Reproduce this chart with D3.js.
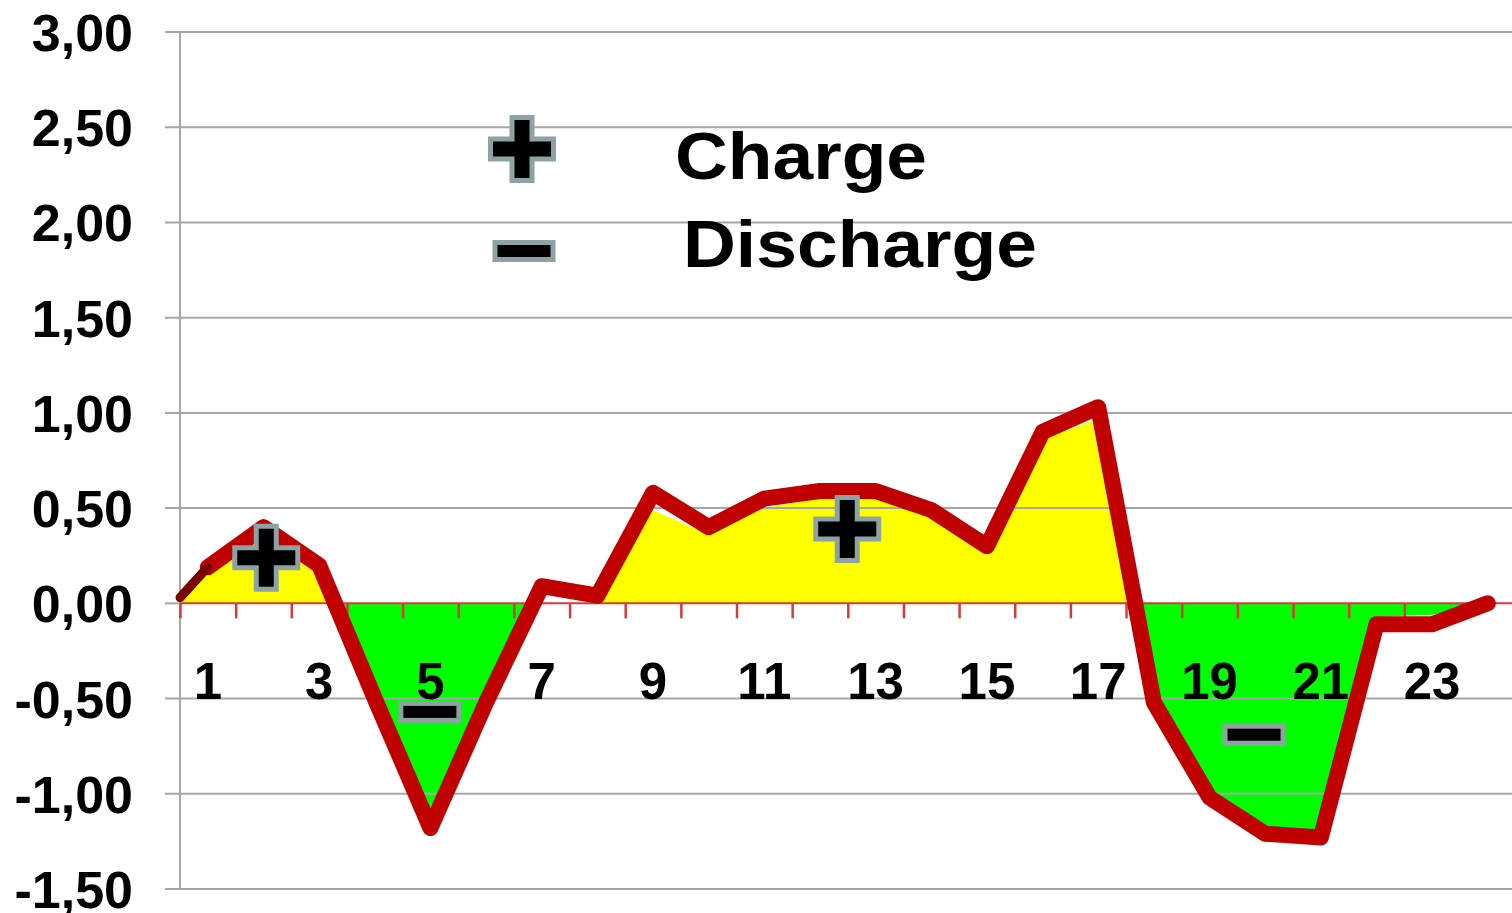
<!DOCTYPE html>
<html><head><meta charset="utf-8">
<script src="https://cdn.jsdelivr.net/npm/d3@7"></script>
<style>html,body{margin:0;padding:0;background:#fff;overflow:hidden}svg{display:block}text{font-family:"Liberation Sans",Arial,sans-serif;font-weight:bold;fill:#000}</style>
</head><body>
<script>
// ---- data ----
const hours = d3.range(1, 25);
const lineValues = [0.19, 0.40, 0.20, -0.50, -1.18, -0.52, 0.09, 0.04, 0.58, 0.40, 0.55, 0.59, 0.59, 0.49, 0.30, 0.90, 1.03, -0.52, -1.02, -1.21, -1.23, -0.11, -0.11, 0.00];
const startValue = 0.03;            // value at the left axis (hour 0.5)
const fillValues = [0.15, 0.35, 0.15, -0.45, -1.08, -0.45, 0.00, 0.00, 0.49, 0.36, 0.50, 0.55, 0.55, 0.45, 0.25, 0.86, 0.97, -0.49, -0.98, -1.17, -1.19, -0.07, -0.06, 0.00];
const fillStart = 0.02;
const yTicks = [-1.5, -1.0, -0.5, 0, 0.5, 1.0, 1.5, 2.0, 2.5, 3.0];
const xTickLabels = [1, 3, 5, 7, 9, 11, 13, 15, 17, 19, 21, 23];
const markerTypes = ["+", "-", "+", "-"];
const markerHours = [2.05, 4.99, 12.49, 19.8];
const markerValues = [0.24, -0.57, 0.39, -0.69];
const legendLabels = ["Charge", "Discharge"];

// ---- layout ----
const W = 1512, H = 913;
const svg = d3.select("body").append("svg").attr("width", W).attr("height", H);
svg.append("rect").attr("width", W).attr("height", H).attr("fill", "#fff");

const x = d3.scaleLinear().domain([0.5, 24.5]).range([180, 1515.6]);
const y = d3.scaleLinear().domain([-1.5, 3]).range([889, 32]);

// fills
const fillPts = [[0.5, fillStart]].concat(hours.map((h, i) => [h, fillValues[i]]));
const area = d3.area().x(d => x(d[0])).y0(y(0)).y1(d => y(d[1]));
const defs = svg.append("defs");
defs.append("clipPath").attr("id", "pos").append("rect").attr("x", 0).attr("y", 0).attr("width", W).attr("height", y(0));
defs.append("clipPath").attr("id", "neg").append("rect").attr("x", 0).attr("y", y(0)).attr("width", W).attr("height", H - y(0));
svg.append("path").datum(fillPts).attr("d", area).attr("fill", "#ffff00").attr("clip-path", "url(#pos)");
svg.append("path").datum(fillPts).attr("d", area).attr("fill", "#00ff00").attr("clip-path", "url(#neg)");

// gridlines
const grid = svg.append("g");
grid.selectAll("line").data(yTicks.filter(v => v !== 0)).join("line")
  .attr("x1", 165).attr("x2", W).attr("y1", d => y(d)).attr("y2", d => y(d))
  .attr("stroke", "#a6a6a6").attr("stroke-width", 2);
grid.append("line").attr("x1", 165).attr("x2", 180).attr("y1", y(0)).attr("y2", y(0)).attr("stroke", "#a6a6a6").attr("stroke-width", 2);
grid.append("line").attr("x1", 180).attr("x2", 180).attr("y1", y(3)).attr("y2", y(-1.5)).attr("stroke", "#a6a6a6").attr("stroke-width", 2);

// zero axis with ticks
const xAxis = d3.axisBottom(x).tickValues(d3.range(0.5, 25, 1)).tickSize(15).tickFormat("");
const gx = svg.append("g").attr("transform", `translate(0,${y(0)})`).call(xAxis);
gx.select(".domain").remove();
gx.append("line").attr("x1", 180).attr("x2", W).attr("y1", 0).attr("y2", 0).attr("stroke", "#d43c3c").attr("stroke-width", 2);
gx.selectAll(".tick line").attr("stroke", "#d43c3c").attr("stroke-width", 2.5);

// y labels
const yAxis = d3.axisLeft(y).tickValues(yTicks).tickSize(0)
  .tickFormat(d => d3.format(".2f")(d).replace("\u2212", "-").replace(".", ","));
const gy = svg.append("g").attr("transform", "translate(133,0)").call(yAxis);
gy.select(".domain").remove();
gy.selectAll("text").attr("font-size", 52).attr("font-family", "Liberation Sans, Arial, sans-serif")
  .attr("font-weight", "bold").attr("fill", "#000").attr("x", 0).attr("dy", null).attr("dominant-baseline", null)
  .attr("y", 18.5).attr("text-anchor", "end");

// x labels
svg.append("g").selectAll("text").data(xTickLabels).join("text")
  .attr("x", d => x(d)).attr("y", 699).attr("text-anchor", "middle").attr("font-size", 51).text(d => d);

// main line
const linePts = hours.map((h, i) => [h, lineValues[i]]);
const line = d3.line().x(d => x(d[0])).y(d => y(d[1]));
svg.append("path").datum(linePts).attr("d", line).attr("fill", "none")
  .attr("stroke", "#c00000").attr("stroke-width", 16).attr("stroke-linejoin", "round").attr("stroke-linecap", "round");
svg.append("path").datum([[0.5, startValue], [1, lineValues[0]]]).attr("d", line).attr("fill", "none")
  .attr("stroke", "#7a0000").attr("stroke-width", 9).attr("stroke-linecap", "round");

// symbols
function plusPath(cx, cy) {
  const L = 29, t = 7.5;
  return `M${cx - t},${cy - L}H${cx + t}V${cy - t}H${cx + L}V${cy + t}H${cx + t}V${cy + L}H${cx - t}V${cy + t}H${cx - L}V${cy - t}H${cx - t}Z`;
}
function drawSymbol(g, type, cx, cy) {
  if (type === "+") {
    g.append("path").attr("d", plusPath(cx, cy)).attr("fill", "#000").attr("stroke", "#8ca2a4")
      .attr("stroke-width", 10).attr("paint-order", "stroke").attr("stroke-linejoin", "miter");
  } else {
    g.append("rect").attr("x", cx - 26.5).attr("y", cy - 6).attr("width", 53).attr("height", 12)
      .attr("fill", "#000").attr("stroke", "#8ca2a4").attr("stroke-width", 10).attr("paint-order", "stroke");
  }
}
const sym = svg.append("g");
markerTypes.forEach((t, i) => drawSymbol(sym, t, x(markerHours[i]), y(markerValues[i])));

// legend
drawSymbol(sym, "+", 522, 149);
drawSymbol(sym, "-", 524, 251);
svg.append("text").attr("x", 675).attr("y", 179).attr("font-size", 67)
  .attr("textLength", 252).attr("lengthAdjust", "spacingAndGlyphs").text(legendLabels[0]);
svg.append("text").attr("x", 683).attr("y", 267).attr("font-size", 66)
  .attr("textLength", 354).attr("lengthAdjust", "spacingAndGlyphs").text(legendLabels[1]);
</script>
</body></html>
